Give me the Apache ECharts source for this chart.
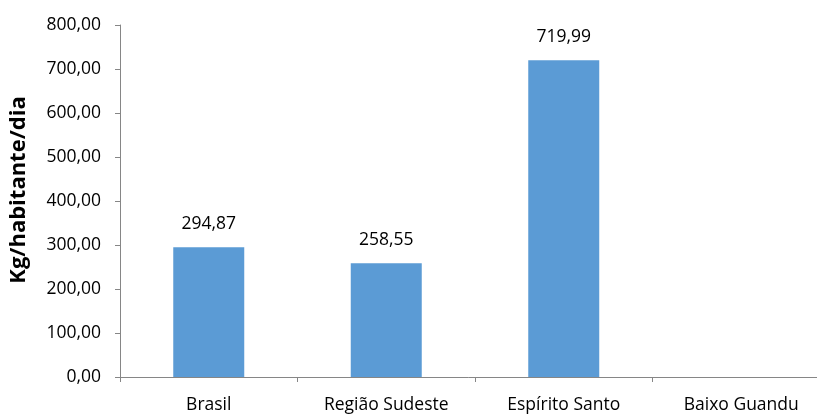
<!DOCTYPE html>
<html>
<head>
<meta charset="utf-8">
<script src="https://cdn.jsdelivr.net/npm/echarts@6/dist/echarts.min.js"></script>
<style>
html, body { margin: 0; padding: 0; background: #fff; }
#chart { width: 817px; height: 415px; }
</style>
</head>
<body>
<div id="chart"></div>
<script>
var categories = ['Brasil', 'Região Sudeste', 'Espírito Santo', 'Baixo Guandu'];
var values = [294.87, 258.55, 719.99, null];
var yTicks = [0, 100, 200, 300, 400, 500, 600, 700, 800];

function fmt(v) {
  return v.toFixed(2).replace('.', ',');
}

var chart = echarts.init(document.getElementById('chart'));
var font = '"Open Sans", "Liberation Sans", sans-serif';

var option = {
  animation: false,
  grid: { left: 120, top: 25, width: 710, height: 352, outerBoundsMode: 'none', containLabel: false },
  xAxis: {
    type: 'category',
    data: categories,
    axisLine: { lineStyle: { color: '#868686', width: 1 } },
    axisTick: { show: true, alignWithLabel: false, length: 5, lineStyle: { color: '#868686' } },
    axisLabel: { color: '#000', fontSize: 17.5, fontFamily: font, margin: 19 }
  },
  yAxis: {
    type: 'value',
    min: yTicks[0],
    max: yTicks[yTicks.length - 1],
    interval: 100,
    name: 'Kg/habitante/dia',
    nameLocation: 'middle',
    nameGap: 90,
    nameTextStyle: { color: '#000', fontSize: 22, fontWeight: 'bold', fontFamily: font, padding: [0, 0, 0, 22] },
    axisLine: { show: true, lineStyle: { color: '#868686', width: 1 } },
    axisTick: { show: true, length: 5, lineStyle: { color: '#868686' } },
    splitLine: { show: false },
    axisLabel: { color: '#000', fontSize: 17.5, fontFamily: font, margin: 19, formatter: fmt }
  },
  series: [{
    type: 'bar',
    data: values,
    barWidth: '40%',
    itemStyle: { color: '#5B9BD5' },
    label: {
      show: true,
      position: 'top',
      distance: 14,
      color: '#000',
      fontSize: 17.5,
      fontFamily: font,
      formatter: function (p) { return fmt(p.value); }
    }
  }]
};
chart.setOption(option);
</script>
</body>
</html>
